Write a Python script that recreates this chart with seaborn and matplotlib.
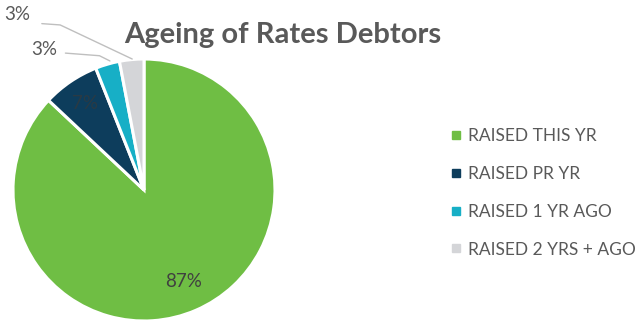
import matplotlib
matplotlib.use("Agg")
import matplotlib.pyplot as plt
import seaborn as sns
from matplotlib.lines import Line2D
import numpy as np

categories = ["RAISED THIS YR", "RAISED PR YR", "RAISED 1 YR AGO", "RAISED 2 YRS + AGO"]
values = [87, 7, 3, 3]
pct_labels = ["87%", "7%", "3%", "3%"]
colors = ["#6fbe44", "#0d3d5c", "#17afc6", "#d4d5d8"]
title = "Ageing of Rates Debtors"

sns.set_theme(style="white")
plt.rcParams['font.family'] = ['Lato', 'DejaVu Sans']

W, H = 643, 322
fig = plt.figure(figsize=(W / 100, H / 100), dpi=100)
cx, cy, r = 144, 190, 131
ax = fig.add_axes([(cx - r) / W, (H - cy - r) / H, 2 * r / W, 2 * r / H])
ax.axis("off")

wedges, _ = ax.pie(values, colors=colors, startangle=90, counterclock=False,
                   radius=1, wedgeprops=dict(edgecolor="white", linewidth=2.2))
ax.set_xlim(-1, 1)
ax.set_ylim(-1, 1)

txt_col = "#595959"
# inside labels
for i, dist, col in [(0, 0.76, "#404040"), (1, 0.8, "#2a3a44")]:
    w = wedges[i]
    ang = np.deg2rad((w.theta1 + w.theta2) / 2)
    ax.text(dist * np.cos(ang), dist * np.sin(ang), pct_labels[i], ha="center",
            va="center", fontsize=13.5, color=col)

# outside labels with leader lines
outside = {
    2: dict(text=(-0.76, 1.07), elbow=(-0.34, 1.025), line_end=(-0.6, 1.045), tip=(-0.26, 0.985)),
    3: dict(text=(-0.97, 1.34), elbow=(-0.64, 1.26), line_end=(-0.78, 1.27), tip=(-0.09, 1.0)),
}
for i, d in outside.items():
    ax.text(*d["text"], pct_labels[i], ha="center", va="center", fontsize=13.5,
            color=txt_col, clip_on=False)
    xs = [d["line_end"][0], d["elbow"][0], d["tip"][0]]
    ys = [d["line_end"][1], d["elbow"][1], d["tip"][1]]
    ax.plot(xs, ys, color="#bfbfbf", lw=1.0, clip_on=False)

fig.text(283 / W, 1 - 35 / H, title, ha="center", va="center", fontsize=21,
         fontweight="bold", color=txt_col)

handles = [Line2D([0], [0], marker="s", linestyle="none", markersize=5.5,
                  markerfacecolor=c, markeredgecolor=c) for c in colors]
fig.legend(handles, categories, loc="center left", bbox_to_anchor=(452 / W, 1 - 193 / H),
           frameon=False, fontsize=12.5, labelcolor=txt_col, handlelength=0.5,
           handletextpad=0.45, labelspacing=1.25, borderpad=0, borderaxespad=0)

fig.savefig("out.png", dpi=100)
